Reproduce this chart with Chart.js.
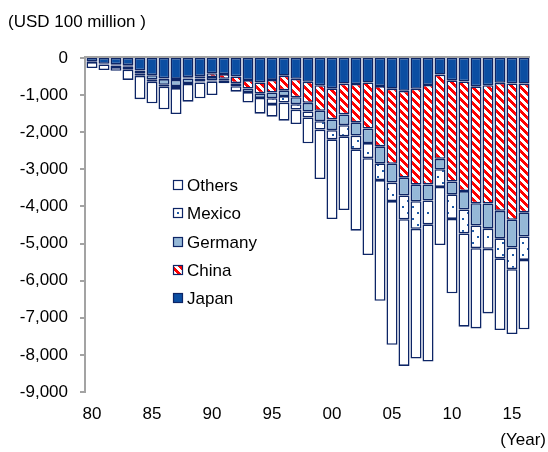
<!DOCTYPE html>
<html>
<head>
<meta charset="utf-8">
<script src="https://cdn.jsdelivr.net/npm/chart.js@4.4.1/dist/chart.umd.min.js"></script>
<style>
  html, body { margin: 0; padding: 0; background: #ffffff; }
  #wrap { width: 548px; height: 452px; position: relative; }
</style>
</head>
<body>
<div id="wrap"><canvas id="chart" width="548" height="452"></canvas></div>
<script>
// US trade balance by partner, USD 100 million (deficits negative)
const years = ['80','81','82','83','84','85','86','87','88','89',
               '90','91','92','93','94','95','96','97','98','99',
               '00','01','02','03','04','05','06','07','08','09',
               '10','11','12','13','14','15','16'];
const tickYears = ['80','85','90','95','00','05','10','15'];

const japan = [-100,-158,-170,-193,-336,-462,-550,-563,-518,-491,
               -411,-434,-496,-594,-657,-591,-476,-561,-640,-734,
               -816,-690,-701,-660,-756,-827,-884,-828,-727,-447,
               -601,-632,-763,-734,-670,-686,-689];
const china = [0,0,0,0,0,0,-17,-28,-35,-62,
               -104,-127,-183,-228,-295,-338,-395,-497,-569,-687,
               -838,-831,-1031,-1241,-1623,-2023,-2341,-2585,-2680,-2269,
               -2730,-2953,-3151,-3187,-3448,-3673,-3470];
const germany = [-10,-15,-35,-45,-87,-122,-156,-163,-122,-83,
                 -94,-49,-82,-96,-125,-154,-155,-187,-232,-281,
                 -291,-290,-359,-392,-460,-507,-479,-447,-430,-282,
                 -343,-496,-597,-678,-742,-748,-649];
const mexico = [0,0,-40,-78,-58,-56,-49,-57,-26,-22,
                -19,0,0,0,0,-158,-175,-145,-159,-228,
                -246,-300,-371,-406,-451,-497,-641,-744,-644,-475,
                -663,-645,-614,-544,-538,-584,-632];
const others = [-160,-150,-100,-274,-629,-582,-612,-698,-476,-429,
                -369,-73,-146,-282,-423,-340,-489,-390,-699,-1331,
                -2148,-1985,-2192,-2610,-3251,-3876,-3952,-3496,-3699,-1567,
                -2005,-2515,-2161,-1739,-1932,-1747,-1872];

const FONT = "'Liberation Sans', Arial, sans-serif";
const NAVY = '#0d2566';
const AXIS_GREY = '#a3a3a3';

// Fill patterns for the China and Mexico segments
function stripePattern() {
  const c = document.createElement('canvas');
  c.width = 8; c.height = 8;
  const g = c.getContext('2d');
  g.fillStyle = '#ffffff';
  g.fillRect(0, 0, 8, 8);
  g.fillStyle = '#ff0000';
  for (let y = 0; y < 8; y++) {
    for (let x = 0; x < 8; x++) {
      if (((x - y) % 8 + 8) % 8 < 4) g.fillRect(x, y, 1, 1);
    }
  }
  return g.createPattern(c, 'repeat');
}
function dotPattern() {
  const c = document.createElement('canvas');
  c.width = 10; c.height = 12;
  const g = c.getContext('2d');
  g.fillStyle = '#ffffff';
  g.fillRect(0, 0, 10, 12);
  g.fillStyle = '#1f5ba8';
  g.fillRect(2, 2, 2, 2);
  g.fillRect(7, 8, 2, 2);
  return g.createPattern(c, 'repeat');
}

const series = [
  { label: 'Japan',   data: japan,   fill: '#0b4ea2' },
  { label: 'China',   data: china,   fill: stripePattern() },
  { label: 'Germany', data: germany, fill: '#95b8d7' },
  { label: 'Mexico',  data: mexico,  fill: dotPattern() },
  { label: 'Others',  data: others,  fill: '#ffffff' }
];

// Axis lines: value axis on the left, zero line along the top, outward ticks
const axisPlugin = {
  id: 'axisLines',
  afterDatasetsDraw(chart) {
    const ctx = chart.ctx;
    const area = chart.chartArea;
    const yScale = chart.scales.y;
    ctx.save();
    ctx.strokeStyle = AXIS_GREY;
    ctx.lineWidth = 2;
    ctx.beginPath();
    ctx.moveTo(area.left - 1, yScale.getPixelForValue(0) - 1);
    ctx.lineTo(area.right, yScale.getPixelForValue(0) - 1);
    ctx.moveTo(area.left - 1, yScale.getPixelForValue(0) - 2);
    ctx.lineTo(area.left - 1, yScale.getPixelForValue(-9000) + 1);
    yScale.ticks.forEach(t => {
      const py = Math.round(yScale.getPixelForValue(t.value));
      ctx.moveTo(area.left - 6, py);
      ctx.lineTo(area.left - 1, py);
    });
    ctx.stroke();
    ctx.restore();
  }
};

// Legend drawn inside the plot, listed from bottom of the stack to top
const legendPlugin = {
  id: 'innerLegend',
  afterDatasetsDraw(chart) {
    const ctx = chart.ctx;
    const order = ['Others', 'Mexico', 'Germany', 'China', 'Japan'];
    const x0 = 173, y0 = 185, step = 28.3, box = 10;
    ctx.save();
    ctx.font = '17px ' + FONT;
    ctx.textBaseline = 'middle';
    ctx.textAlign = 'left';
    order.forEach((name, i) => {
      const ds = chart.data.datasets.find(d => d.label === name);
      const y = Math.round(y0 + i * step);
      ctx.fillStyle = ds.backgroundColor;
      ctx.fillRect(x0, y - box / 2, box, box);
      ctx.strokeStyle = NAVY;
      ctx.lineWidth = 1.2;
      ctx.strokeRect(x0 + 0.5, y - box / 2 + 0.5, box - 1, box - 1);
      ctx.fillStyle = '#000000';
      ctx.fillText(name, x0 + box + 4, y + 1);
    });
    ctx.restore();
  }
};

// Unit and axis captions
const captionPlugin = {
  id: 'captions',
  afterDraw(chart) {
    const ctx = chart.ctx;
    ctx.save();
    ctx.font = '17px ' + FONT;
    ctx.fillStyle = '#000000';
    ctx.textBaseline = 'middle';
    ctx.textAlign = 'left';
    ctx.fillText('(USD 100 million )', 8, 22);
    ctx.textAlign = 'right';
    ctx.fillText('(Year)', 546, 440);
    ctx.restore();
  }
};

new Chart(document.getElementById('chart'), {
  type: 'bar',
  data: {
    labels: years,
    datasets: series.map(s => ({
      label: s.label,
      data: s.data,
      backgroundColor: s.fill,
      borderColor: NAVY,
      borderWidth: 1.6,
      borderSkipped: false,
      barPercentage: 0.92,
      categoryPercentage: 1.0
    }))
  },
  options: {
    responsive: false,
    animation: false,
    devicePixelRatio: 1,
    layout: { padding: { left: 0, right: 18, top: 58, bottom: 28 } },
    plugins: {
      legend: { display: false },
      tooltip: { enabled: false },
      title: { display: false }
    },
    scales: {
      x: {
        stacked: true,
        grid: { display: false, drawTicks: false },
        border: { display: false },
        ticks: {
          autoSkip: false,
          maxRotation: 0,
          minRotation: 0,
          padding: 12,
          color: '#000000',
          font: { family: FONT, size: 17 },
          callback: function (value, index) {
            const y = years[index];
            return tickYears.includes(y) ? y : '';
          }
        },
        afterFit(scale) { scale.height = 32; }
      },
      y: {
        stacked: true,
        min: -9000,
        max: 0,
        grid: { display: false, drawTicks: false },
        border: { display: false },
        ticks: {
          stepSize: 1000,
          padding: 18,
          color: '#000000',
          font: { family: FONT, size: 17 },
          callback: (v) => Number(v).toLocaleString('en-US')
        },
        afterFit(scale) { scale.width = 86; }
      }
    }
  },
  plugins: [axisPlugin, legendPlugin, captionPlugin]
});
</script>
</body>
</html>
